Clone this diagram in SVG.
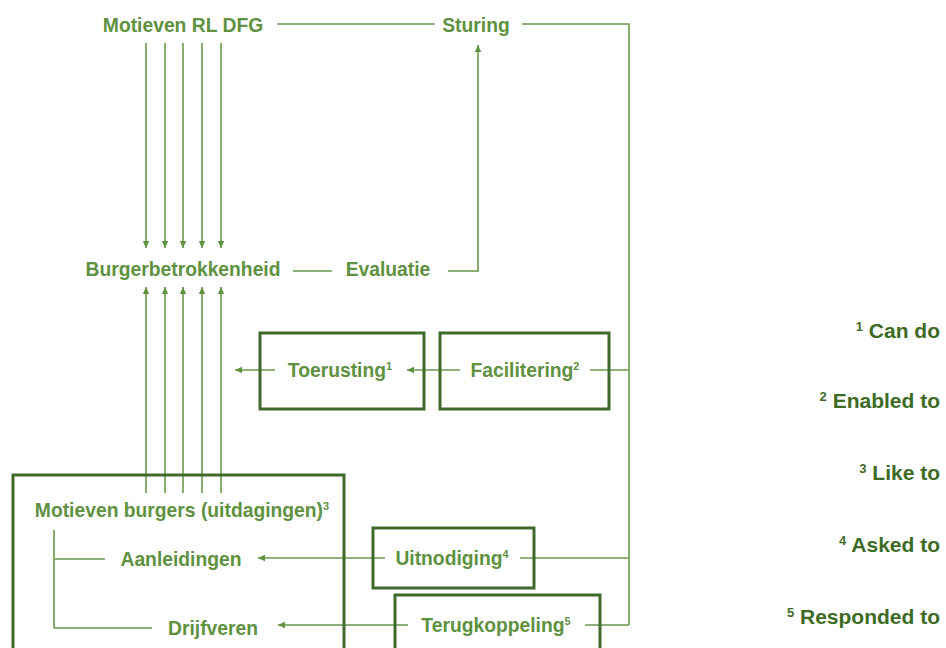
<svg xmlns="http://www.w3.org/2000/svg" width="946" height="648" viewBox="0 0 946 648">
<style>
.t{font-family:"Liberation Sans",Arial,sans-serif;font-weight:bold;font-size:19.3px;fill:#5e9140;text-anchor:middle}
.n{font-family:"Liberation Sans",Arial,sans-serif;font-weight:bold;font-size:21px;fill:#3d6b25;text-anchor:end}
.box{fill:none;stroke:#3f6a2b;stroke-width:3}
.c{fill:none;stroke:#6a9a4c;stroke-width:1.6}
.a{marker-end:url(#ah)}
</style>
<defs>
<marker id="ah" markerUnits="userSpaceOnUse" markerWidth="8" markerHeight="8" refX="7" refY="4" orient="auto">
<path d="M0,0.8 L7,4 L0,7.2 Z" fill="#5e9140"/>
</marker>
</defs>
<rect width="946" height="648" fill="#fff"/>
<g id="connectors">
<path class="c" d="M277,24 H435 M522,24 H629 V625 M590,370 H629 M520,558 H629 M585,625 H629"/>
<path class="c a" d="M146,43 V248"/>
<path class="c a" d="M165,43 V248"/>
<path class="c a" d="M183,43 V248"/>
<path class="c a" d="M202,43 V248"/>
<path class="c a" d="M221,43 V248"/>
<path class="c a" d="M146,493 V287"/>
<path class="c a" d="M165,493 V287"/>
<path class="c a" d="M183,493 V287"/>
<path class="c a" d="M202,493 V287"/>
<path class="c a" d="M221,493 V287"/>
<path class="c" d="M293,271 H332"/>
<path class="c a" d="M448,271 H478 V45"/>
<path class="c a" d="M275,370 H235"/>
<path class="c a" d="M460,370 H407"/>
<path class="c a" d="M385,558 H258"/>
<path class="c a" d="M408,625 H278"/>
<path class="c" d="M54,530 V628 H152 M54,559 H105"/>
</g>
<g id="motieven-rl-dfg"><text class="t" x="183" y="32">Motieven RL DFG</text></g>
<g id="sturing"><text class="t" x="476" y="32">Sturing</text></g>
<g id="burgerbetrokkenheid"><text class="t" x="183" y="276">Burgerbetrokkenheid</text></g>
<g id="evaluatie"><text class="t" x="388" y="276">Evaluatie</text></g>
<g id="toerusting"><rect class="box" x="260" y="333" width="164" height="76"/><text class="t" x="340" y="377">Toerusting<tspan font-size="11" dy="-7">1</tspan></text></g>
<g id="facilitering"><rect class="box" x="440" y="333" width="169" height="76"/><text class="t" x="525" y="377">Facilitering<tspan font-size="11" dy="-7">2</tspan></text></g>
<g id="motieven-burgers"><rect class="box" x="13" y="475" width="331" height="190"/><text class="t" x="182" y="517">Motieven burgers (uitdagingen)<tspan font-size="11" dy="-7">3</tspan></text></g>
<g id="aanleidingen"><text class="t" x="181" y="566">Aanleidingen</text></g>
<g id="drijfveren"><text class="t" x="213" y="635">Drijfveren</text></g>
<g id="uitnodiging"><rect class="box" x="373" y="528" width="161" height="60"/><text class="t" x="452" y="565">Uitnodiging<tspan font-size="11" dy="-7">4</tspan></text></g>
<g id="terugkoppeling"><rect class="box" x="395" y="595" width="205" height="70"/><text class="t" x="496" y="632">Terugkoppeling<tspan font-size="11" dy="-7">5</tspan></text></g>
<g id="notes">
<text class="n" x="940" y="338"><tspan font-size="13" dy="-7">1</tspan><tspan dy="7"> Can do</tspan></text>
<text class="n" x="940" y="408"><tspan font-size="13" dy="-7">2</tspan><tspan dy="7"> Enabled to</tspan></text>
<text class="n" x="940" y="480"><tspan font-size="13" dy="-7">3</tspan><tspan dy="7"> Like to</tspan></text>
<text class="n" x="940" y="552"><tspan font-size="13" dy="-7">4</tspan><tspan dy="7"> Asked to</tspan></text>
<text class="n" x="940" y="624"><tspan font-size="13" dy="-7">5</tspan><tspan dy="7"> Responded to</tspan></text>
</g>
</svg>
